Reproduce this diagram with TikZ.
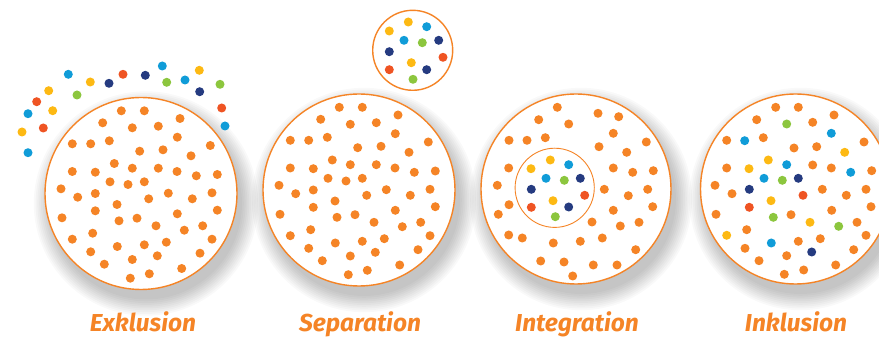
\documentclass[tikz,border=0pt]{standalone}
\usepackage{fontspec}
\setmainfont{Fira Sans}
\usepackage{xcolor}
\usepackage{tikz}

\definecolor{dotorange}{HTML}{F58426}
\definecolor{dotblue}{HTML}{109CD8}
\definecolor{dotyellow}{HTML}{FDB913}
\definecolor{dotnavy}{HTML}{253B80}
\definecolor{dotred}{HTML}{EF5423}
\definecolor{dotgreen}{HTML}{8CC63E}

\tikzset{
  ring/.style={draw=dotorange, line width=1.4pt, fill=white},
  innerring/.style={draw=dotorange, line width=0.9pt},
  groupname/.style={text=dotorange, font=\fontsize{24.5}{26}\selectfont\bfseries\itshape, anchor=base}
}

% one dot of the crowd
\newcommand{\crowddot}[3]{\fill[#3] (#1,#2) circle (4.5pt);}
% soft shadow under a big circle
\newcommand{\softshadow}[2]{%
  \foreach \r in {0,...,9} {\fill[black,opacity=0.025] (#1) ++(5,10) circle ({#2pt+\r*1.8pt});}}

% orange crowd, shared by Exklusion and Separation
\def\crowd{339.3/107.3, 362.3/107.3, 320.7/119.3, 350.3/124.3, 376.3/122.7, 398/115,
  290.3/140.3, 308.7/140.3, 327.3/137.3, 395.3/133.7, 428.3/142, 357.7/147.7, 381/146.3,
  409/152.3, 332.3/160, 290.3/168, 313.3/168.7, 350.3/164.7, 376.3/164.7, 395/168,
  414.3/172.3, 435.3/171, 328/178.3, 346/181, 362.3/178.3, 279/185.3, 295.7/193.7,
  313.3/190, 366.7/195.3, 386.3/189.7, 410.3/195.3, 430/189.3, 335/201, 280/214.3,
  313.3/207.3, 337/217.3, 355/214.7, 395.3/210.3, 435.3/206.7, 374/222.3, 402.3/226.7,
  420.7/222.3, 290.3/235.7, 310.7/229.7, 430/235.7, 308.7/248.3, 335.3/243, 362.3/241.3,
  384.3/238.7, 418/249.7, 322.3/260.7, 350.3/256, 375.3/252.3, 399.7/265, 348.3/274.7,
  367.3/270.3}

\begin{document}
\begin{tikzpicture}[x=1pt, y=-1pt]
\clip (0,0) rectangle (879,339);
\fill[white] (0,0) rectangle (879,339);

\coordinate (exk) at (141,193.5);
\coordinate (sep) at (359,190);
\coordinate (apart) at (412.7,50.3);
\coordinate (integ) at (576,189);
\coordinate (inner) at (554.7,187.8);
\coordinate (inkl) at (795.5,189);

% shadows and rings
\softshadow{exk}{96}
\softshadow{sep}{96}
\softshadow{integ}{95}
\softshadow{inkl}{95}
\draw[ring] (exk) circle (96pt);
\draw[ring] (sep) circle (96pt);
\draw[ring] (apart) circle (40pt);
\draw[ring] (integ) circle (95pt);
\draw[innerring] (inner) circle (39.6pt);
\draw[ring] (inkl) circle (95pt);

% Exklusion: orange inside, coloured dots outside
\begin{scope}[shift={(-218,3.5)}]
  \foreach \x/\y in \crowd {\crowddot{\x}{\y}{dotorange}}
\end{scope}
\foreach \x/\y/\c in {68.3/74.3/dotblue, 90.3/82/dotyellow, 109/83.3/dotnavy, 123/74.3/dotred,
  145.3/75.3/dotnavy, 162.3/66/dotblue, 166.7/82.3/dotgreen, 185/80/dotblue,
  199.3/70.3/dotyellow, 199.7/91.7/dotnavy, 220/84.3/dotgreen, 221.7/108/dotred,
  225/126/dotblue, 48.7/90.7/dotyellow, 77/95/dotgreen, 36.7/101.7/dotred,
  52.7/110.7/dotyellow, 28/113.7/dotblue, 43.3/128/dotred, 22/132/dotyellow,
  28/152.7/dotblue} {\crowddot{\x}{\y}{\c}}

% Separation: coloured dots in a circle of their own
\foreach \x/\y in \crowd {\crowddot{\x}{\y}{dotorange}}
\foreach \x/\y/\c in {408.3/22/dotyellow, 426.7/26.7/dotblue, 389.3/31/dotyellow,
  404/40.3/dotblue, 422.3/42.7/dotgreen, 438.7/40.3/dotnavy, 389.3/51.7/dotnavy,
  443/57.3/dotred, 411.3/62.7/dotyellow, 389.3/69.7/dotred, 426.7/69.7/dotnavy,
  413/79.3/dotgreen} {\crowddot{\x}{\y}{\c}}

% Integration: coloured group inside its own ring
\foreach \x/\y in {557.3/107.3, 538.7/119.7, 568.7/124, 598/113.3, 618.7/116.7,
  509/140.3, 527/140.3, 545.3/137.7, 613.3/133.3, 646.3/142, 599/146.7, 626.7/152.3,
  508.7/168, 613.3/168, 632.7/172.3, 653.3/170.7, 497.3/185.3, 604.3/189.3,
  628.3/195.7, 647.7/189.3, 509/204.7, 498.3/214.3, 613.3/210.3, 652.7/206.7,
  592/222, 620.3/226, 639/222.3, 508.7/235, 522.3/238, 553.3/243, 580.3/241.3,
  602.3/238, 635.7/249.7, 540.7/261, 564/262, 593.3/265, 617/265, 572.7/276}
  {\crowddot{\x}{\y}{dotorange}}
\foreach \x/\y/\c in {550.3/160/dotyellow, 568.7/164.7/dotblue, 531/168.7/dotyellow,
  546/178.3/dotblue, 564.3/180.3/dotgreen, 580.3/178.3/dotnavy, 531.3/189.3/dotnavy,
  584.7/195.3/dotred, 553/200.7/dotyellow, 531.3/207.3/dotred, 568.7/207/dotnavy,
  555.3/216.7/dotgreen} {\crowddot{\x}{\y}{\c}}

% Inklusion: everyone mixed
\foreach \x/\y/\c in {775.7/107.3/dotorange, 798.3/107.3/dotorange, 756.7/119.7/dotorange,
  786.7/124/dotgreen, 812.7/122.3/dotorange, 834/115/dotorange, 726.7/140.3/dotorange,
  744.7/140.7/dotblue, 763.3/137.7/dotorange, 831.3/133.3/dotblue, 864/142/dotorange,
  794/148/dotorange, 816.7/146.7/dotorange, 844.7/152.3/dotyellow, 768.3/160/dotyellow,
  786.7/164.7/dotblue, 812.7/165/dotorange, 726.7/168/dotorange, 749/168.7/dotyellow,
  831.3/168/dotorange, 850.7/172.3/dotblue, 871.7/170.7/dotorange, 764/178.3/dotblue,
  782.3/180.3/dotgreen, 798.3/178.3/dotnavy, 715/185.3/dotorange, 749.3/189.3/dotnavy,
  732/193.7/dotorange, 822.3/189.3/dotorange, 846.3/195.3/dotorange, 866/189.3/dotorange,
  803/195.3/dotred, 771/200.7/dotyellow, 749.3/207.3/dotred, 871/206.7/dotorange,
  716/214.3/dotorange, 773.3/217.3/dotgreen, 791/214.7/dotorange, 831.7/210.3/dotorange,
  810/222.3/dotyellow, 838.7/226.3/dotgreen, 857/222.3/dotorange, 746.7/229.7/dotorange,
  726.7/235.3/dotyellow, 866/235.3/dotorange, 745/248.3/dotorange, 771.3/243/dotblue,
  798.3/241.3/dotorange, 820.3/238.7/dotorange, 811.7/252/dotnavy, 853.7/249.7/dotorange,
  759/260.7/dotorange, 786.7/255.7/dotorange, 835.7/265/dotorange, 784.3/274.3/dotorange,
  803.7/270/dotorange} {\crowddot{\x}{\y}{\c}}

% names
\node[groupname] (nexk) at (143,332) {Exklusion};
\node[groupname] (nsep) at (360,332) {Separation};
\node[groupname] (ninteg) at (577,332) {Integration};
\node[groupname] (ninkl) at (796,332) {Inklusion};
\end{tikzpicture}
\end{document}
